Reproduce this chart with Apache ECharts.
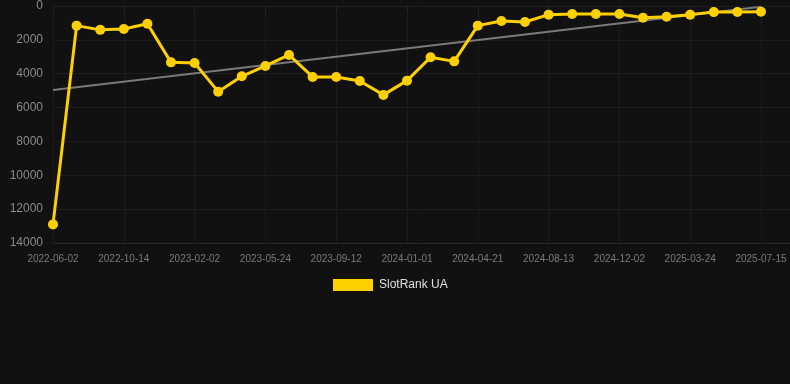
<!DOCTYPE html>
<html>
<head>
<meta charset="utf-8">
<script src="https://cdn.jsdelivr.net/npm/echarts@6/dist/echarts.min.js"></script>
<style>
html,body{margin:0;padding:0;background:#111111;}
#chart{width:790px;height:384px;}
</style>
</head>
<body>
<div id="chart"></div>
<script>
var dates = [
  "2022-06-02","2022-07-17","2022-08-31","2022-10-14","2022-11-20","2022-12-27",
  "2023-02-02","2023-03-11","2023-04-17","2023-05-24","2023-06-30","2023-08-06",
  "2023-09-12","2023-10-19","2023-11-25","2024-01-01","2024-02-07","2024-03-15",
  "2024-04-21","2024-05-29","2024-07-06","2024-08-13","2024-09-19","2024-10-26",
  "2024-12-02","2025-01-08","2025-02-14","2025-03-24","2025-04-30","2025-06-06",
  "2025-07-15"
];
var rankValues = [
  12900, 1160, 1410, 1360, 1050, 3330,
  3370, 5060, 4150, 3540, 2890, 4190,
  4190, 4430, 5250, 4410, 3030, 3270,
  1160, 890, 945, 510, 475, 475,
  475, 690, 630, 510, 360, 350,
  340
];
var trendStart = 4960;
var trendEnd = 40;
var seriesName = "SlotRank UA";
var yMin = 0, yMax = 14000, yStep = 2000;

var trendData = dates.map(function (d, i) {
  if (i === 0) return trendStart;
  if (i === dates.length - 1) return trendEnd;
  return null;
});

var font = 'Liberation Sans, Arial, sans-serif';
var chart = echarts.init(document.getElementById('chart'), null, {renderer: 'canvas'});
chart.setOption({
  backgroundColor: '#111111',
  animation: false,
  grid: [
    {left: 53, right: 29, top: 6, bottom: 141, containLabel: false},
    {left: 53, right: 0, top: 6, bottom: 141, containLabel: false}
  ],
  legend: {
    data: [{name: seriesName, icon: 'rect'}],
    top: 274,
    left: 328,
    itemWidth: 40,
    itemHeight: 12,
    itemGap: 10,
    textStyle: {color: '#e0e0e0', fontSize: 12, fontFamily: font, padding: [0, 0, 0, 1]}
  },
  xAxis: [
    {
      type: 'category',
      gridIndex: 0,
      data: dates,
      boundaryGap: false,
      axisLine: {show: false},
      axisTick: {show: true, interval: 2, length: 6, lineStyle: {color: '#262626'}},
      axisLabel: {interval: 2, color: '#7a7a7a', fontSize: 10, margin: 11, fontFamily: font},
      splitLine: {show: true, interval: 2, lineStyle: {color: '#1c1c1c', width: 1}}
    },
    {
      type: 'value',
      gridIndex: 1,
      show: false,
      min: 0,
      max: 1,
      splitLine: {show: false}
    }
  ],
  yAxis: [
    {
      type: 'value',
      gridIndex: 0,
      inverse: true,
      min: yMin,
      max: yMax,
      interval: yStep,
      axisLine: {show: false},
      axisTick: {show: false},
      axisLabel: {
        color: '#8a8a8a', fontSize: 12, margin: 10, fontFamily: font,
        formatter: function (v) { return String(v); }
      },
      splitLine: {show: false}
    },
    {
      type: 'value',
      gridIndex: 1,
      inverse: true,
      min: yMin,
      max: yMax,
      interval: yStep,
      axisLine: {show: false},
      axisTick: {show: false},
      axisLabel: {show: false},
      splitLine: {
        show: true,
        lineStyle: {color: ['#1d1d1d','#1d1d1d','#1d1d1d','#1d1d1d','#1d1d1d','#1d1d1d','#1d1d1d','#2a2a2a']}
      }
    }
  ],
  series: [
    {
      name: 'trend',
      type: 'line',
      xAxisIndex: 0,
      yAxisIndex: 0,
      data: trendData,
      connectNulls: true,
      showSymbol: false,
      symbol: 'none',
      silent: true,
      lineStyle: {color: '#7a7a7a', width: 2},
      z: 3
    },
    {
      name: seriesName,
      type: 'line',
      xAxisIndex: 0,
      yAxisIndex: 0,
      data: rankValues,
      symbol: 'circle',
      symbolSize: 10,
      showSymbol: true,
      itemStyle: {color: '#ffd000'},
      lineStyle: {color: '#ffd000', width: 3},
      z: 4
    }
  ]
});
</script>
</body>
</html>
